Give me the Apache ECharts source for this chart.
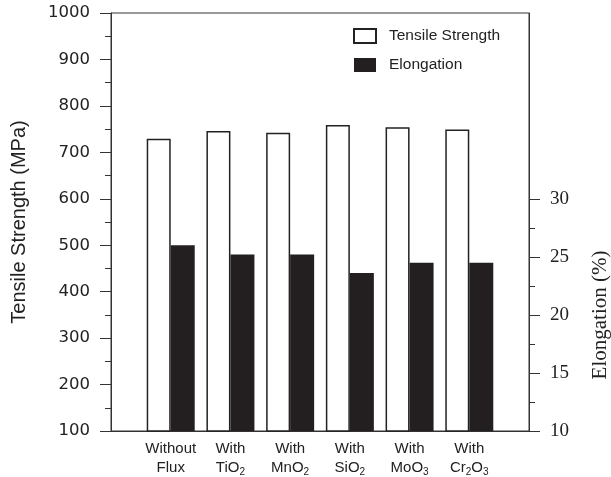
<!DOCTYPE html>
<html>
<head>
<meta charset="utf-8">
<script src="https://cdn.jsdelivr.net/npm/echarts@6/dist/echarts.min.js"></script>
<style>
  html, body { margin: 0; background: #fff; }
  #chart { width: 611px; height: 477px; }
</style>
</head>
<body>
<div id="chart"></div>
<script>
// x groups, subscripts written as rich text {s|n}
const categories = ['Without\nFlux', 'With\nTiO{s|2}', 'With\nMnO{s|2}', 'With\nSiO{s|2}', 'With\nMoO{s|3}', 'With\nCr{s|2}O{s|3}']
const tensileStrength = [729, 746, 742, 759, 754, 749] // MPa, left axis
const elongation = [26.0, 25.2, 25.2, 23.6, 24.5, 24.5] // %, right axis
const rightTicks = [10, 15, 20, 25, 30]
const rightMinorTicks = [12.5, 17.5, 22.5, 27.5]

// one empty slot on each side so the groups sit on the ticks
const pad = arr => [null].concat(arr, [null])

const chart = echarts.init(document.getElementById('chart'))

const axisColor = '#333'
const textColor = '#222'

chart.setOption({
  animation: false,
  grid: {
    left: 111,
    right: 82,
    top: 13,
    bottom: 45,
    show: true,
    borderColor: axisColor,
    borderWidth: 1
  },
  legend: {
    data: ['Tensile Strength', 'Elongation'],
    orient: 'vertical',
    left: 353,
    top: 28,
    itemWidth: 22,
    itemHeight: 14,
    itemGap: 13,
    padding: 0,
    icon: 'rect',
    textStyle: {
      fontFamily: 'Liberation Sans',
      fontSize: 15.5,
      color: textColor,
      padding: [0, 0, 0, 8]
    }
  },
  xAxis: {
    type: 'category',
    boundaryGap: false,
    data: pad(categories).map(c => c || ''),
    axisLine: { lineStyle: { color: axisColor, width: 1 } },
    axisTick: { show: false },
    splitLine: { show: false },
    axisLabel: {
      interval: 0,
      margin: 8,
      fontFamily: 'Liberation Sans',
      fontSize: 15,
      lineHeight: 19,
      color: textColor,
      rich: {
        s: { fontFamily: 'Liberation Sans', fontSize: 10, color: textColor, verticalAlign: 'bottom' }
      }
    }
  },
  yAxis: [
    {
      type: 'value',
      position: 'left',
      min: 100,
      max: 1000,
      interval: 100,
      name: 'Tensile Strength (MPa)',
      nameLocation: 'middle',
      nameGap: 82,
      nameTextStyle: { fontFamily: 'Liberation Sans', fontSize: 20, color: textColor },
      axisLine: { show: true, lineStyle: { color: axisColor, width: 1 } },
      axisTick: { show: true, length: 11, lineStyle: { color: axisColor } },
      minorTick: { show: true, splitNumber: 2, length: 6, lineStyle: { color: axisColor } },
      splitLine: { show: false },
      minorSplitLine: { show: false },
      axisLabel: {
        margin: 21,
        fontFamily: 'DejaVu Sans',
        fontSize: 16.5,
        color: textColor,
        formatter: v => String(v)
      }
    },
    {
      type: 'value',
      position: 'right',
      min: 10,
      max: 46,
      axisLine: { show: true, lineStyle: { color: axisColor, width: 1 } },
      axisTick: { show: true, length: 11, customValues: rightTicks, lineStyle: { color: axisColor } },
      splitLine: { show: false },
      axisLabel: { margin: 21, customValues: rightTicks, fontFamily: 'Liberation Serif', fontSize: 19, color: textColor }
    },
    {
      // short ticks between the labelled ones
      type: 'value',
      position: 'right',
      min: 10,
      max: 46,
      axisLine: { show: false },
      axisTick: { show: true, length: 6, customValues: rightMinorTicks, lineStyle: { color: axisColor } },
      splitLine: { show: false },
      axisLabel: { show: false, customValues: rightMinorTicks }
    }
  ],
  graphic: [
    {
      type: 'text',
      x: 600,
      y: 315,
      rotation: Math.PI / 2,
      style: {
        text: 'Elongation (%)',
        fontFamily: 'Liberation Serif',
        fontSize: 21,
        fill: textColor,
        align: 'center',
        verticalAlign: 'middle'
      }
    }
  ],
  series: [
    {
      name: 'Tensile Strength',
      type: 'bar',
      yAxisIndex: 0,
      barWidth: 24,
      barGap: '0%',
      itemStyle: { color: '#fff', borderColor: '#222', borderWidth: 1.5 },
      data: pad(tensileStrength)
    },
    {
      name: 'Elongation',
      type: 'bar',
      yAxisIndex: 1,
      barWidth: 24,
      itemStyle: { color: '#231f20' },
      data: pad(elongation)
    }
  ]
})
</script>
</body>
</html>
